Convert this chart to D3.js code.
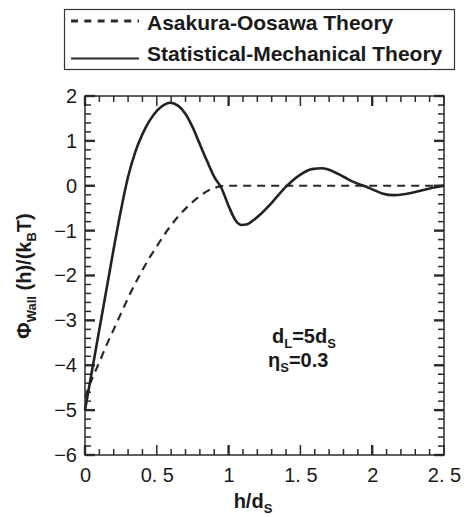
<!DOCTYPE html>
<html>
<head>
<meta charset="utf-8">
<script src="https://cdn.jsdelivr.net/npm/d3@7"></script>
<style>
  body { margin: 0; background: #fff; }
  text { font-family: "Liberation Sans", Arial, sans-serif; fill: #1a1a1a; }
</style>
</head>
<body>
<div id="chart"></div>
<script>
// Asakura-Oosawa theory (dashed)
const aoH   = [0, 0.03, 0.06, 0.1, 0.15, 0.2, 0.25, 0.3, 0.35, 0.4, 0.45, 0.5, 0.55, 0.6, 0.65, 0.7, 0.75, 0.8, 0.85, 0.9, 0.95, 1.0, 2.5];
const aoPhi = [-4.72, -4.45, -4.22, -3.93, -3.55, -3.2, -2.85, -2.5, -2.18, -1.88, -1.6, -1.35, -1.1, -0.88, -0.68, -0.51, -0.36, -0.23, -0.12, -0.05, -0.01, 0, 0];

// statistical-mechanical theory (solid)
const smH   = [0, 0.05, 0.1, 0.15, 0.2, 0.25, 0.3, 0.35, 0.4, 0.45, 0.5, 0.55, 0.59, 0.65, 0.7, 0.75, 0.79, 0.85, 0.9, 0.95, 1.0, 1.05, 1.09, 1.13, 1.18, 1.22, 1.3, 1.4, 1.5, 1.58, 1.65, 1.72, 1.8, 1.88, 1.94, 2.0, 2.07, 2.15, 2.22, 2.3, 2.4, 2.5];
const smPhi = [-5.0, -4.1, -3.2, -2.3, -1.4, -0.55, 0.2, 0.75, 1.15, 1.45, 1.67, 1.8, 1.85, 1.78, 1.6, 1.3, 1.0, 0.55, 0.2, -0.05, -0.45, -0.78, -0.875, -0.86, -0.75, -0.64, -0.38, -0.02, 0.25, 0.37, 0.39, 0.33, 0.2, 0.07, 0.0, -0.08, -0.17, -0.21, -0.19, -0.14, -0.06, 0.0];

const xTicks = [0, 0.5, 1, 1.5, 2, 2.5];
const yTicks = [-6, -5, -4, -3, -2, -1, 0, 1, 2];
const legendLabels = ["Asakura-Oosawa Theory", "Statistical-Mechanical Theory"];

const width = 466, height = 517;
const margin = { top: 96, right: 22, bottom: 62, left: 85 };

const svg = d3.select("#chart").append("svg")
    .attr("width", width)
    .attr("height", height);

const x = d3.scaleLinear().domain([0, 2.5]).range([margin.left, width - margin.right]);
const y = d3.scaleLinear().domain([-6, 2]).range([height - margin.bottom, margin.top]);

const minorX = d3.range(0, 26).map(i => i / 10);
const minorY = d3.range(0, 41).map(i => -6 + i / 5);

const axisColor = "#2a2a2a";
const isInt = v => Math.abs(v - Math.round(v)) < 1e-6;
const isHalf = v => Math.abs(v * 2 - Math.round(v * 2)) < 1e-6;

// tick labels
const fmtX = d => isInt(d) ? String(d) : d.toFixed(1).replace(".", ". ");
const fmtY = d => d < 0 ? "\u2212" + Math.abs(d) : String(d);

const gx = svg.append("g")
    .attr("transform", `translate(0,${y(-6)})`)
    .call(d3.axisBottom(x).tickValues(xTicks).tickSize(0).tickPadding(13).tickFormat(fmtX));
gx.select(".domain").remove();
gx.selectAll("text").style("font-size", "20px").style("white-space", "pre").attr("fill", "#1a1a1a");

const gy = svg.append("g")
    .attr("transform", `translate(${x(0)},0)`)
    .call(d3.axisLeft(y).tickValues(yTicks).tickSize(0).tickPadding(8).tickFormat(fmtY));
gy.select(".domain").remove();
gy.selectAll("text").style("font-size", "20px").attr("fill", "#1a1a1a");

// inward tick marks on all four sides
const xLen = v => isHalf(v) ? 10 : 6;
const yLen = v => isInt(v) ? 10 : 6;
const tw = v => isInt(v) ? 2.4 : 1.5;

const tickLines = [];
minorX.forEach(v => {
    tickLines.push({ x1: x(v), x2: x(v), y1: y(-6), y2: y(-6) - xLen(v), w: tw(v) });
    tickLines.push({ x1: x(v), x2: x(v), y1: y(2), y2: y(2) + xLen(v), w: tw(v) });
});
minorY.forEach(v => {
    tickLines.push({ x1: x(0), x2: x(0) + yLen(v), y1: y(v), y2: y(v), w: tw(v) });
    tickLines.push({ x1: x(2.5), x2: x(2.5) - yLen(v), y1: y(v), y2: y(v), w: tw(v) });
});

svg.append("g").attr("class", "ticks")
    .selectAll("line")
    .data(tickLines)
    .join("line")
    .attr("x1", d => d.x1).attr("x2", d => d.x2)
    .attr("y1", d => d.y1).attr("y2", d => d.y2)
    .attr("stroke", axisColor)
    .attr("stroke-width", d => d.w);

// frame
svg.append("rect")
    .attr("x", x(0)).attr("y", y(2))
    .attr("width", x(2.5) - x(0)).attr("height", y(-6) - y(2))
    .attr("fill", "none").attr("stroke", axisColor).attr("stroke-width", 1.5);

// curves
const line = d3.line()
    .x(d => x(d[0]))
    .y(d => y(d[1]))
    .curve(d3.curveMonotoneX);

svg.append("path")
    .datum(aoH.map((h, i) => [h, aoPhi[i]]))
    .attr("d", line)
    .attr("fill", "none")
    .attr("stroke", "#2a2a2a")
    .attr("stroke-width", 2.2)
    .attr("stroke-dasharray", "8,6");

svg.append("path")
    .datum(smH.map((h, i) => [h, smPhi[i]]))
    .attr("d", line)
    .attr("fill", "none")
    .attr("stroke", "#222")
    .attr("stroke-width", 2.6);

// axis titles
const xt = svg.append("text")
    .attr("x", 253).attr("y", 508)
    .attr("text-anchor", "middle")
    .style("font-size", "20px").style("font-weight", "bold");
xt.append("tspan").text("h/d");
xt.append("tspan").attr("dy", 5).style("font-size", "13px").text("S");

const yt = svg.append("text")
    .attr("transform", "translate(31,276) rotate(-90)")
    .attr("text-anchor", "middle")
    .style("font-size", "20px").style("font-weight", "bold");
yt.append("tspan").text("\u03A6");
yt.append("tspan").attr("dy", 5).style("font-size", "13px").text("Wall");
yt.append("tspan").attr("dy", -5).text(" (h)/(k");
yt.append("tspan").attr("dy", 5).style("font-size", "13px").text("B");
yt.append("tspan").attr("dy", -5).text("T)");

// annotation
const a1 = svg.append("text").attr("x", 272).attr("y", 343)
    .style("font-size", "20px").style("font-weight", "bold");
a1.append("tspan").text("d");
a1.append("tspan").attr("dy", 5).style("font-size", "13px").text("L");
a1.append("tspan").attr("dy", -5).text("=5d");
a1.append("tspan").attr("dy", 5).style("font-size", "13px").text("S");

const a2 = svg.append("text").attr("x", 268).attr("y", 367)
    .style("font-size", "20px").style("font-weight", "bold");
a2.append("tspan").text("\u03B7");
a2.append("tspan").attr("dy", 5).style("font-size", "13px").text("S");
a2.append("tspan").attr("dy", -5).text("=0.3");

// legend
const legend = svg.append("g");
legend.append("rect")
    .attr("x", 64.5).attr("y", 9.5).attr("width", 390).attr("height", 60)
    .attr("fill", "#fff").attr("stroke", "#333").attr("stroke-width", 1.2);

const legRows = [
    { y: 29.5, ly: 21, dash: "7,6.3", w: 3 },
    { y: 61, ly: 58.5, dash: null, w: 2 }
];
legendLabels.forEach((lab, i) => {
    const r = legRows[i];
    legend.append("line")
        .attr("x1", 71).attr("x2", 139)
        .attr("y1", r.ly).attr("y2", r.ly)
        .attr("stroke", "#2a2a2a").attr("stroke-width", r.w)
        .attr("stroke-dasharray", r.dash);
    legend.append("text")
        .attr("x", 147).attr("y", r.y)
        .style("font-size", "21px").style("font-weight", "bold")
        .text(lab);
});
</script>
</body>
</html>
